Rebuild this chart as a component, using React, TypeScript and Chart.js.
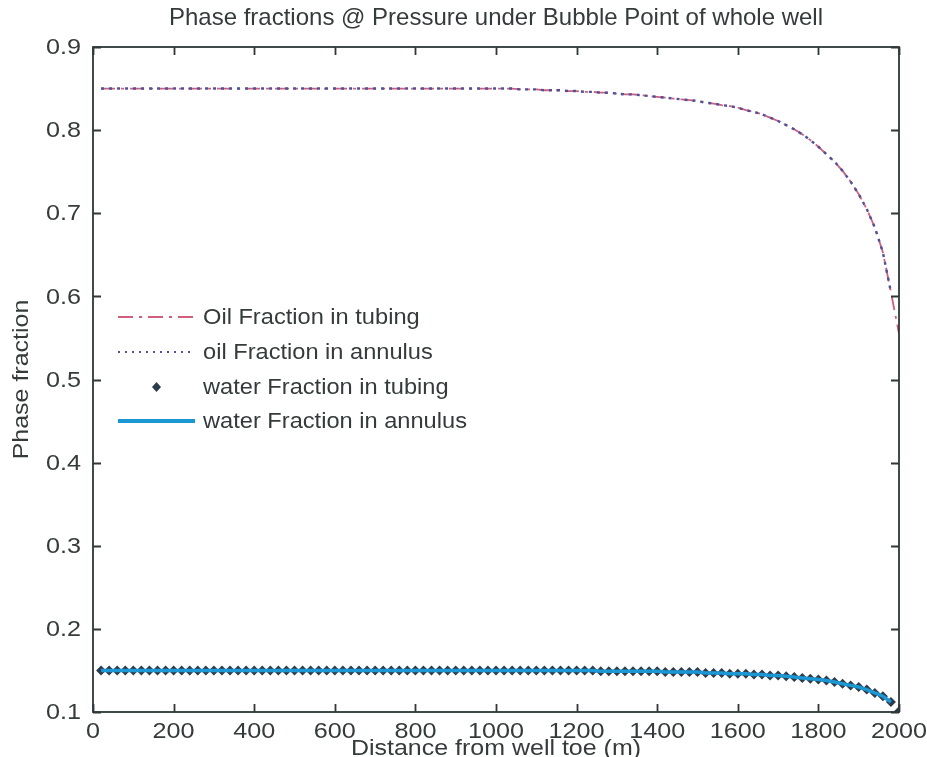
import React, { useEffect, useRef } from 'react';
import { Chart, registerables } from 'chart.js';

Chart.register(...registerables);

// Distance along the well from the toe (m)
const DISTANCE = [
  20, 40, 60, 80, 100, 120, 140, 160, 180, 200,
  220, 240, 260, 280, 300, 320, 340, 360, 380, 400,
  420, 440, 460, 480, 500, 520, 540, 560, 580, 600,
  620, 640, 660, 680, 700, 720, 740, 760, 780, 800,
  820, 840, 860, 880, 900, 920, 940, 960, 980, 1000,
  1020, 1040, 1060, 1080, 1100, 1120, 1140, 1160, 1180, 1200,
  1220, 1240, 1260, 1280, 1300, 1320, 1340, 1360, 1380, 1400,
  1420, 1440, 1460, 1480, 1500, 1520, 1540, 1560, 1580, 1600,
  1620, 1640, 1660, 1680, 1700, 1720, 1740, 1760, 1780, 1800,
  1820, 1840, 1860, 1880, 1900, 1920, 1940, 1960, 1980, 2000,
];

const OIL_TUBING = [
  0.850, 0.850, 0.850, 0.850, 0.850, 0.850, 0.850, 0.850, 0.850, 0.850,
  0.850, 0.850, 0.850, 0.850, 0.850, 0.850, 0.850, 0.850, 0.850, 0.850,
  0.850, 0.850, 0.850, 0.850, 0.850, 0.850, 0.850, 0.850, 0.850, 0.850,
  0.850, 0.850, 0.850, 0.850, 0.850, 0.850, 0.850, 0.850, 0.850, 0.850,
  0.850, 0.850, 0.850, 0.850, 0.850, 0.850, 0.850, 0.850, 0.850, 0.850,
  0.850, 0.850, 0.849, 0.849, 0.849, 0.848, 0.848, 0.848, 0.847, 0.847,
  0.846, 0.846, 0.845, 0.845, 0.844, 0.843, 0.843, 0.842, 0.841, 0.840,
  0.839, 0.838, 0.837, 0.836, 0.835, 0.833, 0.832, 0.830, 0.829, 0.827,
  0.824, 0.822, 0.819, 0.815, 0.811, 0.806, 0.801, 0.795, 0.788, 0.780,
  0.771, 0.762, 0.751, 0.738, 0.723, 0.705, 0.683, 0.653, 0.605, 0.555,
];

const OIL_ANNULUS = [
  0.850, 0.850, 0.850, 0.850, 0.850, 0.850, 0.850, 0.850, 0.850, 0.850,
  0.850, 0.850, 0.850, 0.850, 0.850, 0.850, 0.850, 0.850, 0.850, 0.850,
  0.850, 0.850, 0.850, 0.850, 0.850, 0.850, 0.850, 0.850, 0.850, 0.850,
  0.850, 0.850, 0.850, 0.850, 0.850, 0.850, 0.850, 0.850, 0.850, 0.850,
  0.850, 0.850, 0.850, 0.850, 0.850, 0.850, 0.850, 0.850, 0.850, 0.850,
  0.850, 0.850, 0.849, 0.849, 0.849, 0.848, 0.848, 0.848, 0.847, 0.847,
  0.846, 0.846, 0.845, 0.845, 0.844, 0.843, 0.843, 0.842, 0.841, 0.840,
  0.839, 0.838, 0.837, 0.836, 0.835, 0.833, 0.832, 0.830, 0.829, 0.827,
  0.824, 0.822, 0.819, 0.815, 0.811, 0.806, 0.801, 0.795, 0.788, 0.780,
  0.771, 0.762, 0.751, 0.738, 0.723, 0.705, 0.683, 0.653, 0.605, null,
];

const WATER_TUBING = [
  0.150, 0.150, 0.150, 0.150, 0.150, 0.150, 0.150, 0.150, 0.150, 0.150,
  0.150, 0.150, 0.150, 0.150, 0.150, 0.150, 0.150, 0.150, 0.150, 0.150,
  0.150, 0.150, 0.150, 0.150, 0.150, 0.150, 0.150, 0.150, 0.150, 0.150,
  0.150, 0.150, 0.150, 0.150, 0.150, 0.150, 0.150, 0.150, 0.150, 0.150,
  0.150, 0.150, 0.150, 0.150, 0.150, 0.150, 0.150, 0.150, 0.150, 0.150,
  0.150, 0.150, 0.150, 0.150, 0.150, 0.150, 0.150, 0.150, 0.150, 0.150,
  0.150, 0.150, 0.149, 0.149, 0.149, 0.149, 0.149, 0.149, 0.149, 0.149,
  0.148, 0.148, 0.148, 0.148, 0.148, 0.147, 0.147, 0.147, 0.146, 0.146,
  0.146, 0.145, 0.145, 0.144, 0.144, 0.143, 0.142, 0.141, 0.140, 0.139,
  0.138, 0.136, 0.134, 0.132, 0.130, 0.127, 0.123, 0.119, 0.112, 0.101,
];

const WATER_ANNULUS = [
  0.150, 0.150, 0.150, 0.150, 0.150, 0.150, 0.150, 0.150, 0.150, 0.150,
  0.150, 0.150, 0.150, 0.150, 0.150, 0.150, 0.150, 0.150, 0.150, 0.150,
  0.150, 0.150, 0.150, 0.150, 0.150, 0.150, 0.150, 0.150, 0.150, 0.150,
  0.150, 0.150, 0.150, 0.150, 0.150, 0.150, 0.150, 0.150, 0.150, 0.150,
  0.150, 0.150, 0.150, 0.150, 0.150, 0.150, 0.150, 0.150, 0.150, 0.150,
  0.150, 0.150, 0.150, 0.150, 0.150, 0.150, 0.150, 0.150, 0.150, 0.150,
  0.150, 0.150, 0.149, 0.149, 0.149, 0.149, 0.149, 0.149, 0.149, 0.149,
  0.148, 0.148, 0.148, 0.148, 0.148, 0.147, 0.147, 0.147, 0.146, 0.146,
  0.146, 0.145, 0.145, 0.144, 0.144, 0.143, 0.142, 0.141, 0.140, 0.139,
  0.138, 0.136, 0.134, 0.132, 0.130, 0.127, 0.123, 0.119, 0.112, null,
];

const X_TICKS = [0, 200, 400, 600, 800, 1000, 1200, 1400, 1600, 1800, 2000];
const Y_TICKS = [0.1, 0.2, 0.3, 0.4, 0.5, 0.6, 0.7, 0.8, 0.9];
const X_TICK_LABELS = ['0', '200', '400', '600', '800', '1000', '1200', '1400', '1600', '1800', '2000'];
const Y_TICK_LABELS = ['0.1', '0.2', '0.3', '0.4', '0.5', '0.6', '0.7', '0.8', '0.9'];

const TITLE = 'Phase fractions @ Pressure under Bubble Point of whole well';
const X_LABEL = 'Distance from well toe (m)';
const Y_LABEL = 'Phase fraction';
const SERIES_NAMES = [
  'Oil Fraction in tubing',
  'oil Fraction in annulus',
  'water Fraction in tubing',
  'water Fraction in annulus',
];

const FONT = '"Liberation Sans", Arial, Helvetica, sans-serif';
const AXIS_COLOR = '#2e3838';
const TEXT_COLOR = '#353b3b';
const OIL_TUBING_COLOR = '#cf5f7d';
const OIL_ANNULUS_COLOR = '#4f5199';
const WATER_TUBING_COLOR = '#2c3c4c';
const WATER_ANNULUS_COLOR = '#1b97d4';

const toPoints = (ys: (number | null)[]) =>
  DISTANCE.map((x, i) => ({ x, y: ys[i] })).filter((p) => p.y !== null);

// The figure's hinted text runs a little wide, so glyphs are widened along the text direction
function drawText(
  ctx: CanvasRenderingContext2D,
  text: string,
  x: number,
  y: number,
  size: number,
  widen: number,
  align: CanvasTextAlign,
  baseline: CanvasTextBaseline,
  vertical = false,
) {
  ctx.save();
  ctx.translate(x, y);
  if (vertical) ctx.rotate(-Math.PI / 2);
  ctx.scale(widen, 1);
  ctx.font = `${size}px ${FONT}`;
  ctx.textAlign = align;
  ctx.textBaseline = baseline;
  ctx.fillText(text, 0, 0);
  ctx.restore();
}

// Frame with inward ticks, tick labels, title, axis labels and an unboxed legend
const decorations = {
  id: 'decorations',
  afterDraw(chart: any) {
    const { ctx, chartArea: a, scales } = chart;
    const xs = scales.x;
    const ys = scales.y;
    ctx.save();

    // box + inward ticks on all four sides
    ctx.strokeStyle = AXIS_COLOR;
    ctx.lineWidth = 1.8;
    ctx.strokeRect(a.left, a.top, a.right - a.left, a.bottom - a.top);
    const tl = 8;
    ctx.beginPath();
    X_TICKS.forEach((v) => {
      const px = Math.round(xs.getPixelForValue(v)) + 0.5;
      ctx.moveTo(px, a.bottom);
      ctx.lineTo(px, a.bottom - tl);
      ctx.moveTo(px, a.top);
      ctx.lineTo(px, a.top + tl);
    });
    Y_TICKS.forEach((v) => {
      const py = Math.round(ys.getPixelForValue(v)) + 0.5;
      ctx.moveTo(a.left, py);
      ctx.lineTo(a.left + tl, py);
      ctx.moveTo(a.right, py);
      ctx.lineTo(a.right - tl, py);
    });
    ctx.stroke();

    ctx.fillStyle = TEXT_COLOR;

    // tick labels
    X_TICKS.forEach((v, i) => {
      drawText(ctx, X_TICK_LABELS[i], xs.getPixelForValue(v), a.bottom + 20, 22.5, 1.12, 'center', 'middle');
    });
    Y_TICKS.forEach((v, i) => {
      drawText(ctx, Y_TICK_LABELS[i], a.left - 12, ys.getPixelForValue(v) + 1, 22.5, 1.12, 'right', 'middle');
    });

    // title and axis titles
    const midX = (a.left + a.right) / 2;
    const midY = (a.top + a.bottom) / 2;
    drawText(ctx, TITLE, midX, 18, 24, 1.0, 'center', 'middle');
    drawText(ctx, X_LABEL, midX, 755, 22.5, 1.11, 'center', 'alphabetic');
    drawText(ctx, Y_LABEL, 28, midY, 22.5, 1.11, 'center', 'alphabetic', true);

    // legend, drawn inside the axes without a box
    const lx0 = xs.left + 25;
    const lx1 = xs.left + 102;
    const tx = xs.left + 110;
    const rowY = [317, 352, 387, 421];
    rowY.forEach((y, i) => {
      ctx.save();
      ctx.beginPath();
      if (i === 0) {
        ctx.strokeStyle = OIL_TUBING_COLOR;
        ctx.lineWidth = 1.8;
        ctx.setLineDash([15, 6, 3, 6]);
        ctx.moveTo(lx0, y);
        ctx.lineTo(lx1, y);
        ctx.stroke();
      } else if (i === 1) {
        ctx.strokeStyle = OIL_ANNULUS_COLOR;
        ctx.lineWidth = 2.2;
        ctx.setLineDash([2, 5]);
        ctx.moveTo(lx0, y);
        ctx.lineTo(lx1, y);
        ctx.stroke();
      } else if (i === 2) {
        const cx = (lx0 + lx1) / 2;
        ctx.fillStyle = WATER_TUBING_COLOR;
        ctx.moveTo(cx, y - 5);
        ctx.lineTo(cx + 4.5, y);
        ctx.lineTo(cx, y + 5);
        ctx.lineTo(cx - 4.5, y);
        ctx.closePath();
        ctx.fill();
      } else {
        ctx.strokeStyle = WATER_ANNULUS_COLOR;
        ctx.lineWidth = 4;
        ctx.moveTo(lx0, y);
        ctx.lineTo(lx1, y);
        ctx.stroke();
      }
      ctx.restore();
      ctx.fillStyle = TEXT_COLOR;
      drawText(ctx, SERIES_NAMES[i], tx, y + 1, 22.5, 1.05, 'left', 'middle');
    });

    ctx.restore();
  },
};

export default function App() {
  const canvasRef = useRef<HTMLCanvasElement | null>(null);

  useEffect(() => {
    const canvas = canvasRef.current;
    if (!canvas) return;
    const chart = new Chart(canvas, {
      type: 'line',
      data: {
        datasets: [
          {
            label: SERIES_NAMES[0],
            data: toPoints(OIL_TUBING),
            borderColor: OIL_TUBING_COLOR,
            borderWidth: 1.8,
            borderDash: [14, 6, 3, 6],
            pointRadius: 0,
            order: 3,
          },
          {
            label: SERIES_NAMES[1],
            data: toPoints(OIL_ANNULUS),
            borderColor: OIL_ANNULUS_COLOR,
            borderWidth: 2.4,
            borderDash: [3, 5],
            pointRadius: 0,
            order: 2,
          },
          {
            label: SERIES_NAMES[2],
            data: toPoints(WATER_TUBING),
            showLine: false,
            pointStyle: 'rectRot',
            pointRadius: 5,
            pointBackgroundColor: WATER_TUBING_COLOR,
            pointBorderColor: WATER_TUBING_COLOR,
            pointBorderWidth: 0,
            order: 1,
          },
          {
            label: SERIES_NAMES[3],
            data: toPoints(WATER_ANNULUS),
            borderColor: WATER_ANNULUS_COLOR,
            borderWidth: 3.5,
            pointRadius: 0,
            order: 0,
          },
        ],
      },
      options: {
        responsive: false,
        animation: false,
        devicePixelRatio: 1,
        layout: { padding: { top: 47, right: 28, bottom: 0, left: 0 } },
        plugins: {
          legend: { display: false },
          title: { display: false },
          tooltip: { enabled: false },
        },
        scales: {
          x: {
            type: 'linear',
            min: 0,
            max: 2000,
            afterBuildTicks: (s: any) => {
              s.ticks = X_TICKS.map((value) => ({ value }));
            },
            afterFit: (s: any) => {
              s.height = 45;
            },
            grid: { display: false, drawTicks: false },
            border: { display: false },
            ticks: { display: false },
          },
          y: {
            type: 'linear',
            min: 0.1,
            max: 0.9,
            afterBuildTicks: (s: any) => {
              s.ticks = Y_TICKS.map((value) => ({ value }));
            },
            afterFit: (s: any) => {
              s.width = 93;
            },
            grid: { display: false, drawTicks: false },
            border: { display: false },
            ticks: { display: false },
          },
        },
      },
      plugins: [decorations],
    });
    return () => chart.destroy();
  }, []);

  return (
    <div style={{ position: 'fixed', left: 0, top: 0, width: 927, height: 757, background: '#ffffff' }}>
      <canvas ref={canvasRef} width={927} height={757} style={{ display: 'block' }} />
    </div>
  );
}
